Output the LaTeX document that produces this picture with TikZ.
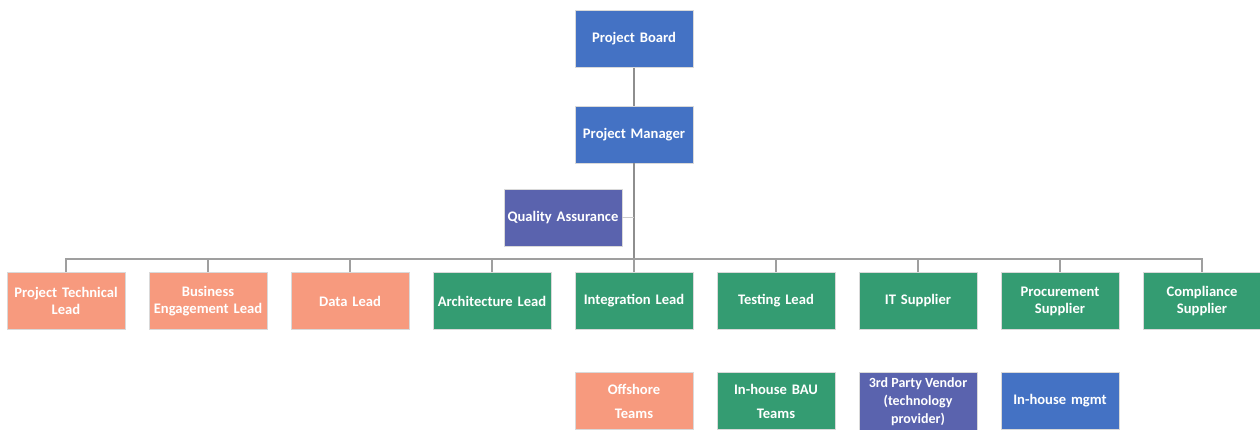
\documentclass[tikz,border=0pt]{standalone}
\usepackage{fontspec}
\setmainfont{Carlito}
\definecolor{boxblue}{HTML}{4472C4}
\definecolor{boxsalmon}{HTML}{F79A7E}
\definecolor{boxgreen}{HTML}{349C72}
\definecolor{boxpurple}{HTML}{5A63AE}
\definecolor{linegray}{HTML}{8E8E8E}
\begin{document}
\begin{tikzpicture}[x=1pt,y=-1pt,
  unit/.style={draw=white!85!black, line width=0.6pt, minimum width=116pt, minimum height=57pt,
    inner sep=0pt, text width=118pt, align=center, text=white, font=\bfseries\fontsize{14.6}{17}\selectfont},
  blueunit/.style={unit, fill=boxblue},
  salmonunit/.style={unit, fill=boxsalmon},
  greenunit/.style={unit, fill=boxgreen},
  purpleunit/.style={unit, fill=boxpurple},
  wideline/.style={font=\bfseries\fontsize{14.6}{24}\selectfont},
  trunk/.style={draw=linegray, line width=2.2pt},
  branch/.style={draw=linegray!85, line width=1.4pt},
  side/.style={draw=linegray!45, line width=1.2pt}]
\clip (0,0) rectangle (1260,429);
\fill[white] (0,0) rectangle (1260,429);

% management chain
\node[blueunit] (board) at (634,39) {Project Board};
\node[blueunit] (pm) at (634,134.5) {Project Manager};
\node[purpleunit] (qa) at (563,217.5) {Quality Assurance};
\coordinate (bus) at (634,259);

% workstream leads
\node[salmonunit] (ptl) at (66,301) {Project Technical\\Lead};
\node[salmonunit] (bel) at (208,301) {Business\\Engagement Lead};
\node[salmonunit] (dl) at (350,301) {Data Lead};
\node[greenunit] (al) at (492,301) {Architecture Lead};
\node[greenunit] (il) at (634,301) {Integration Lead};
\node[greenunit] (tl) at (776,301) {Testing Lead};
\node[greenunit] (its) at (918,301) {IT Supplier};
\node[greenunit] (ps) at (1060,301) {Procurement\\Supplier};
\node[greenunit] (cs) at (1202,301) {Compliance\\Supplier};

% delivery teams
\node[salmonunit, wideline] (off) at (634,401) {Offshore\\Teams};
\node[greenunit, wideline] (bau) at (776,401) {In-house BAU\\Teams};
\node[purpleunit, minimum height=58pt] (vendor) at (918,401) {};
\node[font=\bfseries\fontsize{14}{18}\selectfont, text=white, align=center, inner sep=0pt]
  (vendorlabel) at (vendor.center) [yshift=-1pt] {3rd Party Vendor\\(technology\\provider)};
\node[blueunit] (mgmt) at (1060,401) {In-house mgmt};

% connectors
\draw[trunk] (board.south) -- (pm.north);
\draw[trunk] (pm.south) -- (bus);
\draw[side] (qa.east) -- (qa.east -| pm.south);
\foreach \n in {ptl,bel,dl,al,il,tl,its,ps,cs}
  \draw[branch] (\n.north) |- (bus);
\end{tikzpicture}
\end{document}
